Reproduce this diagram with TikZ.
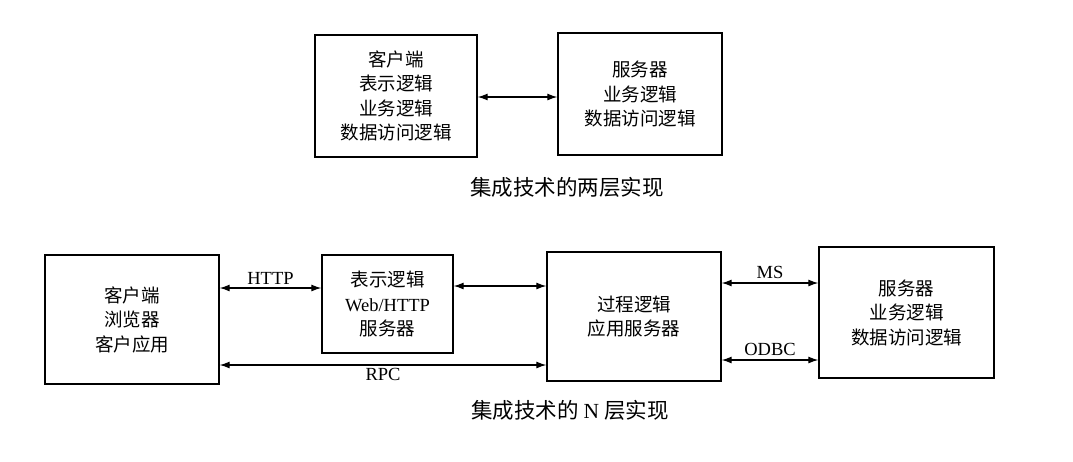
\documentclass[tikz,border=0pt]{standalone}
\usepackage{fontspec}
\setmainfont{Liberation Serif}
\newfontfamily\cjk{Noto Sans CJK SC}
\usetikzlibrary{arrows.meta}
\tikzset{
  layer/.style={draw, line width=1.3pt, align=center, inner sep=0pt,
    font=\cjk\fontsize{18.5}{24.5}\selectfont},
  link/.style={line width=1.2pt,
    {Latex[length=10pt,width=7pt]}-{Latex[length=10pt,width=7pt]}},
  proto/.style={font=\fontsize{18.5}{22}\selectfont},
  caption/.style={font=\cjk\fontsize{21.5}{26}\selectfont}
}

\begin{document}
\begin{tikzpicture}[x=1pt,y=-1pt]
  \useasboundingbox (0,0) rectangle (1073,461);

  % two tiers
  \node[layer, minimum width=162pt, minimum height=122pt] (client) at (396,96)
    {客户端\\表示逻辑\\业务逻辑\\数据访问逻辑};
  \node[layer, minimum width=164pt, minimum height=122pt] (server) at (640,94)
    {服务器\\业务逻辑\\数据访问逻辑};
  \draw[link] (client.east |- 0,97) -- (server.west |- 0,97);
  \node[caption] (twotier) at (567,187) {集成技术的两层实现};

  % n tiers
  \node[layer, minimum width=174pt, minimum height=129pt] (browser) at (132,319.5)
    {客户端\\浏览器\\客户应用};
  \node[layer, minimum width=131pt, minimum height=98pt] (web) at (387.5,304)
    {表示逻辑\\{\rmfamily Web/HTTP}\\服务器};
  \node[layer, minimum width=174pt, minimum height=129pt] (appsrv) at (634,316.5)
    {过程逻辑\\应用服务器};
  \node[layer, minimum width=175pt, minimum height=131pt] (dbsrv) at (906.5,312.5)
    {服务器\\业务逻辑\\数据访问逻辑};

  \draw[link] (browser.east |- 0,288) -- (web.west |- 0,288)
    node[midway, above=0pt, proto] {HTTP};
  \draw[link] (web.east |- 0,286) -- (appsrv.west |- 0,286);
  \draw[link] (browser.east |- 0,365) -- (appsrv.west |- 0,365)
    node[midway, below=-1pt, proto] {RPC};
  \draw[link] (appsrv.east |- 0,283) -- (dbsrv.west |- 0,283)
    node[midway, above=0pt, proto] {MS};
  \draw[link] (appsrv.east |- 0,360) -- (dbsrv.west |- 0,360)
    node[midway, above=0pt, proto] {ODBC};

  \node[caption] (ntier) at (570,410) {集成技术的 {\rmfamily N} 层实现};
\end{tikzpicture}
\end{document}
